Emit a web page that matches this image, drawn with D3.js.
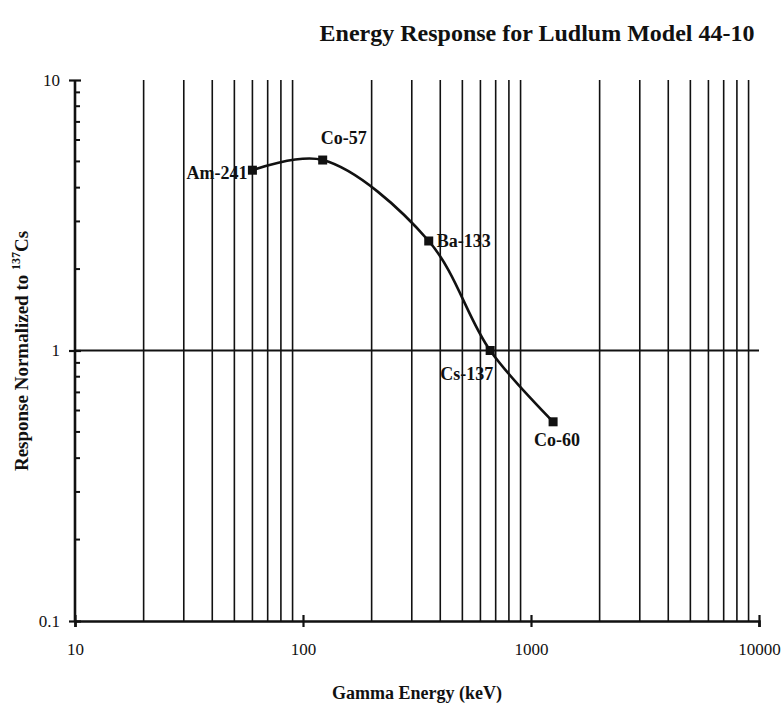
<!DOCTYPE html>
<html><head><meta charset="utf-8">
<script src="https://cdn.jsdelivr.net/npm/d3@7"></script>
<style>body{margin:0;background:#fff}svg{display:block}text{font-family:"Liberation Serif","Times New Roman",serif;fill:#111}</style>
</head><body>
<script>
const sources = ["Am-241","Co-57","Ba-133","Cs-137","Co-60"];
const energies = [60,122,356,662,1250];
const responses = [4.64,5.06,2.54,1.0,0.545];
const xTicks = [10,100,1000,10000];
const yTicks = [0.1,1,10];
const xGrid = [20,30,40,50,60,70,80,90,200,300,400,500,600,700,800,900,2000,3000,4000,5000,6000,7000,8000,9000];
const yMinor = [0.2,0.3,0.4,0.5,0.6,0.7,0.8,0.9,2,3,4,5,6,7,8,9];
const yGrid = [1];

const W=783,H=706;
const svg=d3.select("body").append("svg").attr("width",W).attr("height",H);
const x=d3.scaleLog().domain([10,10000]).range([75,759]);
const y=d3.scaleLog().domain([0.1,10]).range([621,80]);

// vertical grid lines
svg.append("g").selectAll("line").data(xGrid).join("line")
  .attr("x1",d=>x(d)).attr("x2",d=>x(d)).attr("y1",y(10)).attr("y2",y(0.1))
  .attr("stroke","#111").attr("stroke-width",1.6);
// horizontal grid
svg.append("g").selectAll("line").data(yGrid).join("line")
  .attr("x1",x(10)).attr("x2",x(10000)).attr("y1",d=>y(d)).attr("y2",d=>y(d))
  .attr("stroke","#111").attr("stroke-width",1.8);

// axes
const xAxis=d3.axisBottom(x).tickValues(xTicks).tickFormat(d3.format("d")).tickSize(6).tickPadding(16);
const gx=svg.append("g").attr("transform",`translate(0,${y(0.1)})`).call(xAxis);
gx.select(".domain").attr("stroke","#111").attr("stroke-width",2.6);
gx.selectAll(".tick line").attr("y1",-6).attr("stroke-width",2.2).attr("stroke","#111");
gx.selectAll("text").attr("font-size",17).attr("font-family","Liberation Serif").attr("fill","#111");

const yAxis=d3.axisLeft(y).tickValues(yTicks).tickFormat(d=>d===0.1?"0.1":String(d)).tickSize(6).tickPadding(9);
const gy=svg.append("g").attr("transform",`translate(${x(10)},0)`).call(yAxis);
gy.select(".domain").attr("stroke","#111").attr("stroke-width",2.6).attr("d",`M0,${y(10)}V${y(0.1)}`);
gy.selectAll(".tick line").attr("x2",-6).attr("x1",6).attr("stroke-width",2.2).attr("stroke","#111");
gy.selectAll("text").attr("font-size",17).attr("font-family","Liberation Serif").attr("fill","#111");
// minor y ticks
svg.append("g").selectAll("line").data(yMinor).join("line")
  .attr("x1",x(10)).attr("x2",x(10)+5).attr("y1",d=>y(d)).attr("y2",d=>y(d))
  .attr("stroke","#111").attr("stroke-width",2);

// curve
const pts=energies.map((e,i)=>[x(e),y(responses[i])]);
svg.append("path").attr("d",d3.line().curve(d3.curveCatmullRom.alpha(0.5))(pts))
  .attr("fill","none").attr("stroke","#111").attr("stroke-width",2.6);
svg.append("g").selectAll("rect").data(pts).join("rect")
  .attr("x",d=>d[0]-4.5).attr("y",d=>d[1]-4.5).attr("width",9).attr("height",9).attr("fill","#111");

// point labels
const lblOff=[[-5,9,"end"],[-2,-16,"start"],[8,6,"start"],[-50,29,"start"],[-19,24,"start"]];
svg.append("g").selectAll("text").data(sources).join("text")
  .attr("x",(d,i)=>pts[i][0]+lblOff[i][0]).attr("y",(d,i)=>pts[i][1]+lblOff[i][1])
  .attr("text-anchor",(d,i)=>lblOff[i][2]).attr("font-size",18).attr("font-weight","bold").text(d=>d);

// title
svg.append("text").attr("x",537).attr("y",41).attr("text-anchor","middle").attr("font-size",24).attr("font-weight","bold")
  .text("Energy Response for Ludlum Model 44-10");
// x label
svg.append("text").attr("x",417).attr("y",699).attr("text-anchor","middle").attr("font-size",18).attr("font-weight","bold")
  .text("Gamma Energy (keV)");
// y label
const yl=svg.append("text").attr("transform","translate(28,351) rotate(-90)").attr("text-anchor","middle")
  .attr("font-size",19).attr("font-weight","bold");
yl.append("tspan").text("Response Normalized to ");
yl.append("tspan").attr("font-size",12).attr("dy",-8).text("137");
yl.append("tspan").attr("dy",8).text("Cs");
</script>
</body></html>
